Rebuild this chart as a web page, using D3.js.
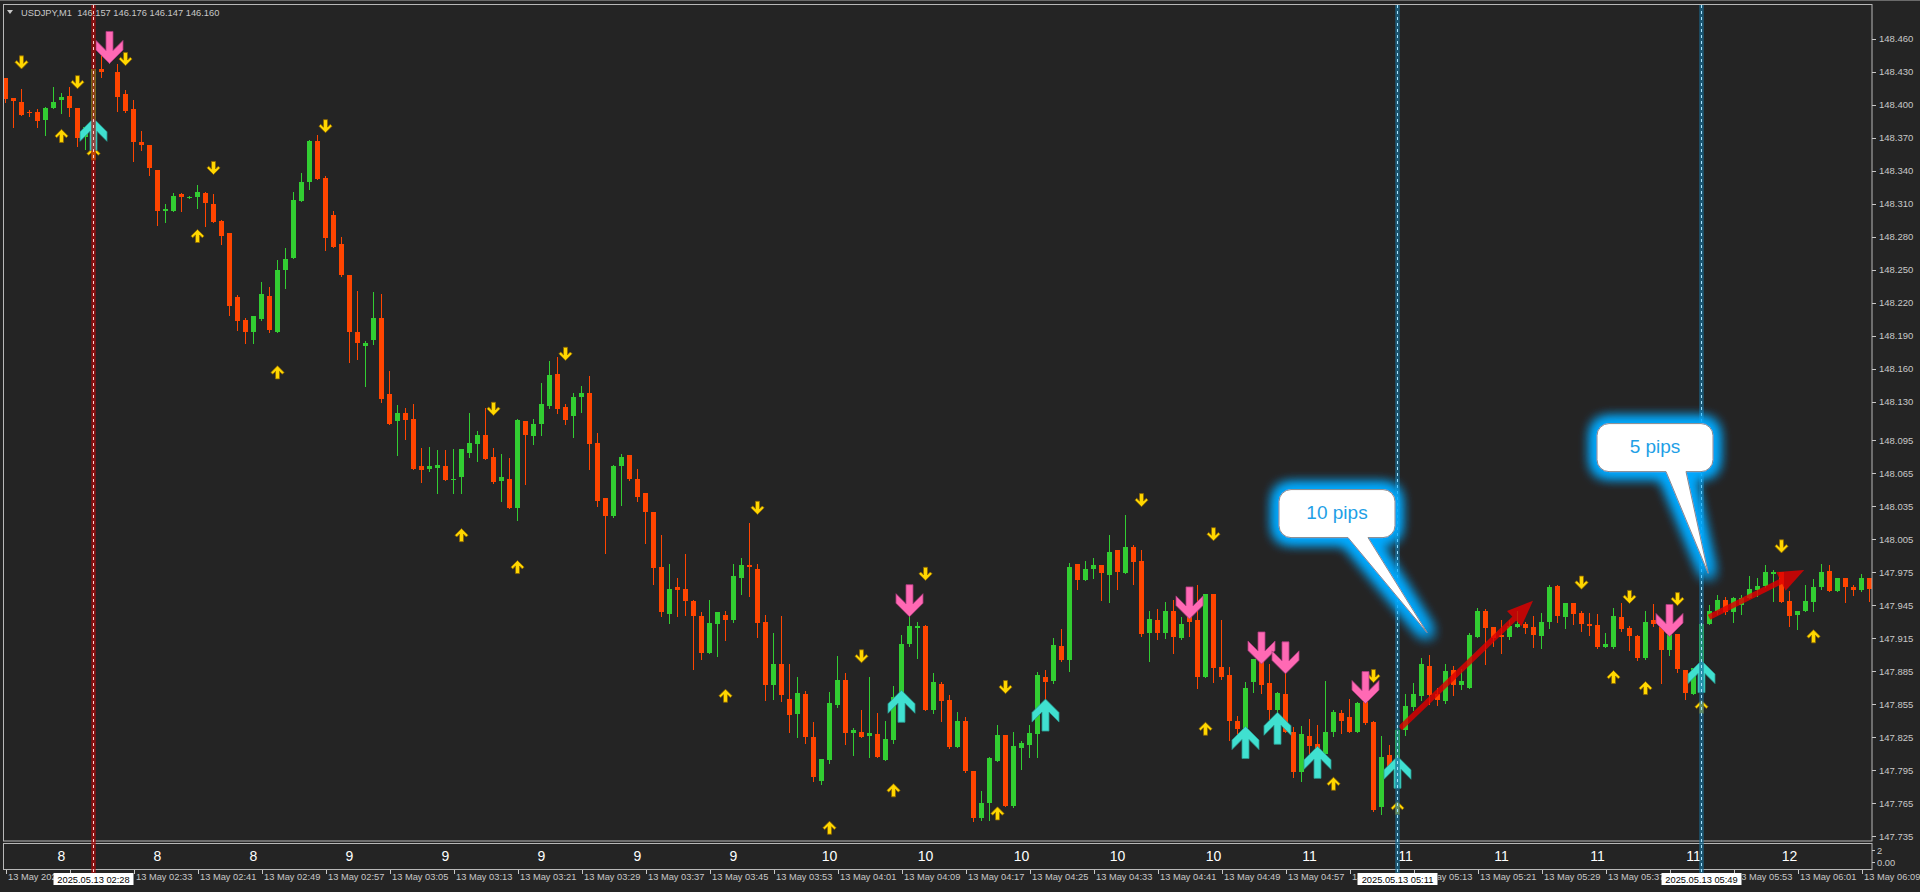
<!DOCTYPE html>
<html><head><meta charset="utf-8"><title>USDJPY,M1</title>
<script src="https://cdn.jsdelivr.net/npm/d3@7/dist/d3.min.js"></script>
<style>
html,body{margin:0;padding:0;background:#242424;overflow:hidden;}
svg{display:block;}
</style></head>
<body><svg id="chart" width="1920" height="892"></svg>
<script>
// ---------------- DATA ----------------
const symbolTitle = "USDJPY,M1";
const titleQuote = "146.157 146.176 146.147 146.160";

// one row per M1 bar, first bar = 13 May 02:17 : [open, high, low, close]
const ohlc = [
[148.424,148.424,148.402,148.405],[148.406,148.406,148.380,148.403],[148.402,148.414,148.391,148.391],[148.393,148.395,148.390,148.392],
[148.393,148.396,148.380,148.385],[148.386,148.398,148.372,148.397],[148.397,148.416,148.397,148.402],[148.404,148.411,148.392,148.407],
[148.408,148.416,148.390,148.397],[148.397,148.397,148.362,148.370],[148.371,148.380,148.360,148.380],[148.380,148.432,148.377,148.432],
[148.432,148.451,148.425,148.430],[148.440,148.452,148.438,148.442],[148.430,148.437,148.394,148.407],[148.410,148.413,148.393,148.394],
[148.396,148.404,148.349,148.366],[148.366,148.376,148.359,148.363],[148.363,148.363,148.336,148.342],[148.341,148.341,148.291,148.303],
[148.303,148.310,148.293,148.305],[148.303,148.320,148.303,148.317],[148.319,148.320,148.303,148.316],[148.316,148.317,148.315,148.316],
[148.316,148.327,148.306,148.321],[148.320,148.321,148.290,148.311],[148.310,148.319,148.293,148.293],[148.294,148.295,148.273,148.281],
[148.283,148.283,148.209,148.217],[148.225,148.227,148.195,148.203],[148.204,148.206,148.183,148.193],[148.193,148.208,148.183,148.208],
[148.205,148.239,148.204,148.228],[148.226,148.234,148.193,148.195],[148.193,148.259,148.193,148.250],[148.250,148.270,148.233,148.260],
[148.261,148.321,148.261,148.313],[148.312,148.338,148.312,148.330],[148.330,148.368,148.323,148.367],[148.367,148.372,148.332,148.332],
[148.333,148.335,148.268,148.279],[148.300,148.303,148.271,148.271],[148.273,148.280,148.244,148.245],[148.245,148.245,148.166,148.193],
[148.193,148.231,148.169,148.183],[148.181,148.185,148.144,148.183],[148.186,148.230,148.182,148.206],[148.206,148.228,148.130,148.132],
[148.137,148.158,148.110,148.110],[148.112,148.127,148.081,148.120],[148.120,148.124,148.096,148.113],[148.114,148.128,148.069,148.069],
[148.071,148.088,148.057,148.068],[148.069,148.089,148.067,148.071],[148.070,148.086,148.047,148.072],[148.071,148.086,148.059,148.059],
[148.059,148.087,148.047,148.060],[148.061,148.087,148.047,148.087],[148.083,148.120,148.080,148.092],[148.091,148.103,148.076,148.100],
[148.100,148.124,148.078,148.078],[148.080,148.088,148.056,148.057],[148.058,148.082,148.040,148.061],[148.060,148.079,148.033,148.033],
[148.033,148.114,148.022,148.113],[148.112,148.112,148.055,148.100],[148.099,148.114,148.091,148.110],[148.110,148.147,148.100,148.128],
[148.126,148.167,148.124,148.154],[148.155,148.171,148.120,148.123],[148.125,148.128,148.110,148.113],[148.117,148.138,148.098,148.134],
[148.134,148.144,148.121,148.138],[148.138,148.153,148.069,148.091],[148.092,148.101,148.035,148.040],[148.042,148.042,147.992,148.026],
[148.026,148.072,148.025,148.071],[148.071,148.082,148.036,148.080],[148.081,148.081,148.059,148.060],[148.060,148.069,148.040,148.043],
[148.047,148.047,148.001,148.030],[148.030,148.030,147.964,147.979],[147.980,148.009,147.935,147.939],[147.937,147.982,147.929,147.960],
[147.961,147.970,147.935,147.959],[147.960,147.991,147.936,147.949],[147.949,147.950,147.887,147.935],[147.935,147.939,147.896,147.901],
[147.901,147.950,147.901,147.929],[147.928,147.939,147.899,147.939],[147.936,147.940,147.913,147.931],[147.931,147.982,147.930,147.971],
[147.970,147.988,147.955,147.981],[147.981,148.020,147.953,147.980],[147.978,147.982,147.916,147.929],[147.930,147.936,147.859,147.872],
[147.872,147.920,147.860,147.891],[147.891,147.935,147.858,147.863],[147.860,147.891,147.830,147.845],[147.846,147.880,147.825,147.865],
[147.864,147.867,147.820,147.825],[147.825,147.839,147.785,147.789],[147.785,147.805,147.782,147.805],[147.804,147.866,147.801,147.856],
[147.854,147.899,147.852,147.877],[147.877,147.883,147.819,147.829],[147.829,147.833,147.809,147.831],[147.830,147.850,147.825,147.825],
[147.826,147.880,147.807,147.829],[147.828,147.847,147.807,147.807],[147.804,147.840,147.804,147.823],[147.822,147.871,147.820,147.861],
[147.860,147.918,147.860,147.910],[147.910,147.939,147.908,147.926],[147.924,147.930,147.897,147.926],[147.926,147.927,147.850,147.850],
[147.850,147.883,147.847,147.875],[147.873,147.875,147.840,147.858],[147.859,147.863,147.815,147.816],[147.816,147.848,147.816,147.840],
[147.840,147.843,147.793,147.794],[147.794,147.794,147.749,147.751],[147.751,147.776,147.750,147.765],[147.765,147.807,147.750,147.806],
[147.803,147.836,147.803,147.827],[147.827,147.827,147.762,147.762],[147.762,147.830,147.761,147.817],[147.815,147.821,147.796,147.820],
[147.818,147.836,147.807,147.829],[147.828,147.884,147.807,147.881],[147.880,147.886,147.845,147.875],[147.876,147.915,147.874,147.909],
[147.908,147.923,147.894,147.895],[147.895,147.983,147.885,147.980],[147.982,147.982,147.960,147.968],[147.968,147.985,147.968,147.978],
[147.978,147.988,147.970,147.981],[147.981,147.981,147.950,147.974],[147.972,148.009,147.948,147.993],[147.995,147.995,147.960,147.975],
[147.974,148.027,147.974,147.998],[147.998,148.000,147.964,147.984],[147.985,147.995,147.917,147.919],[147.920,147.940,147.894,147.932],
[147.931,147.941,147.914,147.920],[147.920,147.948,147.915,147.940],[147.940,147.950,147.901,147.916],[147.915,147.934,147.914,147.928],
[147.934,147.938,147.917,147.930],[147.931,147.963,147.870,147.880],[147.880,147.955,147.880,147.955],[147.955,147.955,147.875,147.888],
[147.889,147.931,147.878,147.880],[147.881,147.889,147.822,147.840],[147.840,147.844,147.822,147.832],[147.831,147.875,147.831,147.870],
[147.875,147.896,147.866,147.896],[147.896,147.898,147.865,147.872],[147.874,147.891,147.841,147.850],[147.850,147.866,147.840,147.865],
[147.864,147.886,147.830,147.830],[147.830,147.834,147.789,147.793],[147.793,147.835,147.785,147.828],[147.826,147.841,147.804,147.817],
[147.819,147.836,147.800,147.810],[147.810,147.876,147.810,147.830],[147.830,147.850,147.826,147.848],[147.847,147.850,147.829,147.840],
[147.843,147.860,147.830,147.830],[147.830,147.857,147.830,147.856],[147.857,147.857,147.837,147.838],[147.839,147.840,147.758,147.759],
[147.761,147.826,147.755,147.807],[147.809,147.818,147.796,147.797],[147.797,147.833,147.793,147.831],[147.831,147.864,147.827,147.853],
[147.852,147.874,147.850,147.864],[147.862,147.897,147.859,147.891],[147.890,147.900,147.855,147.863],[147.864,147.870,147.854,147.859],
[147.858,147.891,147.856,147.885],[147.886,147.890,147.863,147.872],[147.872,147.887,147.869,147.876],[147.870,147.920,147.870,147.918],
[147.916,147.942,147.916,147.940],[147.940,147.941,147.891,147.924],[147.925,147.925,147.908,147.915],[147.918,147.931,147.901,147.916],
[147.916,147.931,147.914,147.926],[147.925,147.940,147.925,147.928],[147.928,147.930,147.920,147.924],[147.925,147.935,147.907,147.918],
[147.917,147.938,147.906,147.930],[147.930,147.963,147.924,147.961],[147.962,147.963,147.930,147.935],[147.934,147.947,147.924,147.947],
[147.947,147.947,147.928,147.937],[147.938,147.940,147.921,147.928],[147.928,147.938,147.918,147.926],[147.927,147.937,147.906,147.907],
[147.907,147.920,147.907,147.910],[147.907,147.942,147.906,147.935],[147.934,147.947,147.921,147.923],[147.924,147.926,147.904,147.917],
[147.917,147.918,147.895,147.897],[147.897,147.940,147.896,147.930],[147.931,147.946,147.926,147.928],[147.928,147.931,147.874,147.904],
[147.904,147.920,147.900,147.920],[147.919,147.919,147.884,147.887],[147.886,147.886,147.860,147.865],[147.864,147.888,147.864,147.888],
[147.887,147.928,147.881,147.928],[147.928,147.945,147.928,147.940],[147.940,147.954,147.937,147.950],[147.950,147.952,147.937,147.939],
[147.939,147.952,147.930,147.951],[147.945,147.954,147.937,147.951],[147.951,147.971,147.951,147.960],[147.959,147.970,147.953,147.962],
[147.962,147.981,147.961,147.975],[147.973,147.977,147.949,147.975],[147.975,147.975,147.948,147.948],[147.949,147.958,147.926,147.935],
[147.936,147.940,147.923,147.940],[147.940,147.963,147.940,147.949],[147.948,147.969,147.940,147.961],[147.961,147.982,147.960,147.975],
[147.976,147.981,147.958,147.958],[147.958,147.970,147.958,147.970],[147.970,147.970,147.948,147.961],[147.961,147.963,147.954,147.959],
[147.959,147.973,147.958,147.970],[147.970,147.970,147.949,147.960]
];

// price axis labels (as printed by the terminal)
const priceTicks = [147.735,147.765,147.795,147.825,147.855,147.885,147.915,147.945,147.975,148.005,148.035,148.065,
                    148.095,148.130,148.160,148.190,148.220,148.250,148.280,148.310,148.340,148.370,148.400,148.430,148.460];
const priceMin = 147.7305, priceMax = 148.4915;

// time axis: label every 8 bars
const timeTickIndex = [0,8,16,24,32,40,48,56,64,72,80,88,96,104,112,120,128,136,144,152,160,168,176,184,192,200,208,216,224,232];
const timeTicks = ["13 May 2025","13 May 02:25","13 May 02:33","13 May 02:41","13 May 02:49","13 May 02:57","13 May 03:05",
  "13 May 03:13","13 May 03:21","13 May 03:29","13 May 03:37","13 May 03:45","13 May 03:53","13 May 04:01","13 May 04:09",
  "13 May 04:17","13 May 04:25","13 May 04:33","13 May 04:41","13 May 04:49","13 May 04:57","13 May 05:05","13 May 05:13",
  "13 May 05:21","13 May 05:29","13 May 05:37","13 May 05:45","13 May 05:53","13 May 06:01","13 May 06:09"];

// sub-window hour labels (every 12 bars starting at bar 7)
const hourIndex = [7,19,31,43,55,67,79,91,103,115,127,139,151,163,175,187,199,211,223];
const hourLabels = [8,8,8,9,9,9,9,9,10,10,10,10,10,11,11,11,11,11,12];
const subTicks = ["2","0.00"];

// signal arrows: [bar index, price]
const yellowDown = [[2,148.438],[9,148.420],[15,148.441],[26,148.342],[40,148.380],[61,148.123],[70,148.173],[94,148.033],
  [107,147.898],[115,147.973],[125,147.870],[142,148.040],[151,148.009],[171,147.880],[197,147.965],[203,147.952],[209,147.950],[222,147.998]];
const yellowUp = [[7,148.372],[11,148.356],[24,148.281],[34,148.157],[57,148.009],[64,147.980],[90,147.863],[103,147.743],
  [111,147.777],[124,147.756],[150,147.833],[166,147.783],[174,147.761],[201,147.880],[205,147.870],[212,147.853],[226,147.917]];
const pinkDown = [[13,148.452],[113,147.949],[148,147.947],[157,147.906],[160,147.897],[170,147.870],[208,147.931]];
const cyanUp = [[11,148.373],[112,147.853],[130,147.845],[155,147.820],[159,147.833],[164,147.802],[174,147.793],[212,147.880]];

// vertical lines
const redLines = [{index:11, label:"2025.05.13 02:28"}];
const blueLines = [{index:174, label:"2025.05.13 05:11"},{index:212, label:"2025.05.13 05:49"}];

// trend arrows
const trendArrows = [
  {fromIndex:174.4, fromPrice:147.833, toIndex:191.0, toPrice:147.949},
  {fromIndex:213.0, fromPrice:147.934, toIndex:224.9, toPrice:147.977}
];

// callouts (box top-left anchor and tail tip in chart coordinates)
const callouts = [
  {text:"10 pips", boxIndex:159.25, boxPrice:148.050, tipIndex:177.75, tipPrice:147.920},
  {text:"5 pips",  boxIndex:199.0,  boxPrice:148.110, tipIndex:212.9,  tipPrice:147.974}
];

// ---------------- DRAW ----------------
const FONT = '"Liberation Sans", Arial, sans-serif';
const BG = "#242424", AX = "#c8c8c8", FRAME = "#b8b8b8";
const BULL = "#32cd32", BEAR = "#ff4500";
const plot = {left:4, right:1872, top:4, bottom:841};
const svg = d3.select("#chart");
const n = ohlc.length;

const x = d3.scaleLinear().domain([0, n-1]).range([5, 5 + 8*(n-1)]);
const y = d3.scaleLinear().domain([priceMin, priceMax]).range([plot.bottom, plot.top]);

svg.append("rect").attr("width",1920).attr("height",892).attr("fill",BG);

const defs = svg.append("defs");
defs.append("clipPath").attr("id","plotClip").append("rect")
  .attr("x",plot.left).attr("y",plot.top).attr("width",plot.right-plot.left).attr("height",plot.bottom-plot.top);
const glow = defs.append("filter").attr("id","glow").attr("x","-60%").attr("y","-60%").attr("width","220%").attr("height","220%");
glow.append("feMorphology").attr("in","SourceAlpha").attr("operator","dilate").attr("radius",3).attr("result","d");
glow.append("feGaussianBlur").attr("in","d").attr("stdDeviation",7).attr("result","b");
glow.append("feFlood").attr("flood-color","#00aaff").attr("result","f");
glow.append("feComposite").attr("in","f").attr("in2","b").attr("operator","in").attr("result","g");
const gm = glow.append("feMerge");
gm.append("feMergeNode").attr("in","g");
gm.append("feMergeNode").attr("in","g");
gm.append("feMergeNode").attr("in","g");
gm.append("feMergeNode").attr("in","SourceGraphic");

// top window strip
svg.append("line").attr("x1",0).attr("x2",1920).attr("y1",0.5).attr("y2",0.5).attr("stroke","#6a6a6a");

const g = svg.append("g").attr("clip-path","url(#plotClip)");

const bars = ohlc.map((d,i)=>({i, o:d[0], h:d[1], l:d[2], c:d[3], up:d[3]>=d[0]}));
const px = i => Math.round(x(i));

g.append("g").attr("shape-rendering","crispEdges").selectAll("line").data(bars).join("line")
  .attr("x1",d=>px(d.i)+0.5).attr("x2",d=>px(d.i)+0.5)
  .attr("y1",d=>Math.round(y(d.h))).attr("y2",d=>Math.round(y(d.l))+1)
  .attr("stroke",d=>d.up?BULL:BEAR).attr("stroke-width",1);
g.append("g").attr("shape-rendering","crispEdges").selectAll("rect").data(bars).join("rect")
  .attr("x",d=>px(d.i)-2).attr("width",5)
  .attr("y",d=>Math.round(y(Math.max(d.o,d.c))))
  .attr("height",d=>Math.max(1, Math.round(y(Math.min(d.o,d.c))) - Math.round(y(Math.max(d.o,d.c)))))
  .attr("fill",d=>d.up?BULL:BEAR);

// arrow shapes
const smallDown = "M-2,-7L2,-7L2,0.5L4.8,-2.3L6.6,-0.5L0,6.1L-6.6,-0.5L-4.8,-2.3L-2,0.5Z";
const smallUp = "M-2,7L2,7L2,-0.5L4.8,2.3L6.6,0.5L0,-6.1L-6.6,0.5L-4.8,2.3L-2,-0.5Z";
const bigDown = "M-3.5,-16L3.5,-16L3.5,3L13.5,-7L13.5,2.5L0,16L-13.5,2.5L-13.5,-7L-3.5,3Z";
const bigUp = "M-3.5,16L3.5,16L3.5,-3L13.5,7L13.5,-2.5L0,-16L-13.5,-2.5L-13.5,7L-3.5,-3Z";

function arrows(data, shape, fill, stroke){
  g.append("g").selectAll("path").data(data).join("path")
    .attr("d",shape)
    .attr("transform",d=>`translate(${px(d[0])+0.5},${y(d[1])})`)
    .attr("fill",fill).attr("stroke",stroke).attr("stroke-width",0.8);
}
arrows(yellowDown, smallDown, "#ffd700", "#8c6400");
arrows(yellowUp, smallUp, "#ffd700", "#8c6400");
arrows(pinkDown, bigDown, "#ff69b4", "#b03a80");
arrows(cyanUp, bigUp, "#40e0d0", "#2a9a90");

// trend arrows
trendArrows.forEach(a=>{
  const x0=x(a.fromIndex), y0=y(a.fromPrice), x1=x(a.toIndex), y1=y(a.toPrice);
  const dx=x1-x0, dy=y1-y0, L=Math.hypot(dx,dy), ux=dx/L, uy=dy/L, nx=-uy, ny=ux;
  const hl=26, hw=10.5;
  const bx=x1-ux*hl, by=y1-uy*hl;
  const ag = g.append("g").attr("opacity",0.82);
  ag.append("line").attr("x1",x0).attr("y1",y0).attr("x2",bx+ux*2).attr("y2",by+uy*2)
    .attr("stroke","#e00000").attr("stroke-width",5.5);
  ag.append("path").attr("d",`M${x1},${y1}L${bx+nx*hw},${by+ny*hw}L${bx-nx*hw},${by-ny*hw}Z`).attr("fill","#e00000");
});

// frames
svg.append("rect").attr("x",plot.left-0.5).attr("y",plot.top+0.5).attr("width",plot.right-plot.left+0.5).attr("height",plot.bottom-plot.top-0.5)
  .attr("fill","none").attr("stroke",FRAME);
svg.append("rect").attr("x",plot.left-0.5).attr("y",843.5).attr("width",plot.right-plot.left+0.5).attr("height",26)
  .attr("fill","none").attr("stroke",FRAME);

// sub-window hour labels
svg.append("g").selectAll("text").data(hourIndex).join("text")
  .attr("x",d=>px(d)+0.5).attr("y",861).attr("text-anchor","middle")
  .attr("font-family",FONT).attr("font-size",14).attr("fill","#ffffff")
  .text((d,i)=>hourLabels[i]);
svg.append("g").selectAll("text").data(subTicks).join("text")
  .attr("x",1877).attr("y",(d,i)=>i===0?853.5:865.5)
  .attr("font-family",FONT).attr("font-size",9.3).attr("fill",AX).text(d=>d);
svg.append("g").selectAll("line").data([850,862]).join("line")
  .attr("x1",1872).attr("x2",1875).attr("y1",d=>d+0.5).attr("y2",d=>d+0.5).attr("stroke",AX);

// price axis
const yAxis = d3.axisRight(y).tickValues(priceTicks).tickFormat(d3.format(".3f")).tickSize(4).tickPadding(3);
const ya = svg.append("g").attr("transform",`translate(${plot.right},0)`).call(yAxis);
ya.select(".domain").remove();
ya.selectAll("line").attr("stroke",AX).attr("shape-rendering","crispEdges");
ya.selectAll("text").attr("fill",AX).attr("font-family",FONT).attr("font-size",9.5);

// date boxes (vertical-line labels) positions
const dateBoxes = [...redLines, ...blueLines].map(d=>{ const cx = px(d.index)+0.5; return {cx, l:cx-40, r:cx+40, label:d.label}; });

// time axis
const xAxis = d3.axisBottom(x).tickValues(timeTickIndex).tickFormat((d,i)=>timeTicks[i]).tickSize(4).tickPadding(0);
const xa = svg.append("g").attr("transform","translate(0.5,870)").call(xAxis);
xa.select(".domain").remove();
xa.selectAll("line").attr("stroke",AX).attr("shape-rendering","crispEdges");
xa.selectAll("text").attr("fill",AX).attr("font-family",FONT).attr("font-size",9.3)
  .attr("text-anchor","start").attr("x",2).attr("y",3).attr("dy","0.71em");
// hide the parts of tick labels that sit under the date boxes (as the terminal does)
xa.selectAll(".tick").each(function(d){
  const t = d3.select(this).select("text");
  const start = x(d) + 0.5 + 2, end = start + t.node().getComputedTextLength();
  dateBoxes.forEach((b,k)=>{
    if (end <= b.l || start >= b.r) return;
    if (start >= b.l - 1 && end <= b.r + 1) { t.remove(); return; }
    const id = `tclip${d}_${k}`;
    const lo = start < b.l ? start - 2 : b.r, hi = start < b.l ? b.l : end + 2;
    defs.append("clipPath").attr("id",id).append("rect")
      .attr("x", lo - x(d) - 0.5).attr("y",0).attr("width", hi - lo).attr("height",22);
    t.attr("clip-path",`url(#${id})`);
  });
});

// vertical lines
function vline(d, band, dash){
  const cx = px(d.index)+0.5;
  svg.append("line").attr("x1",cx).attr("x2",cx).attr("y1",plot.top+1).attr("y2",878)
    .attr("stroke",band).attr("stroke-width",4.5);
  svg.append("line").attr("x1",cx).attr("x2",cx).attr("y1",plot.top+1).attr("y2",878)
    .attr("stroke",dash).attr("stroke-width",1).attr("stroke-dasharray","3,3");
}
redLines.forEach(d=>vline(d,"rgba(175,10,10,0.72)","#ffd0d0"));
blueLines.forEach(d=>vline(d,"rgba(25,110,150,0.7)","#a8e4ff"));

// date labels on the time axis
dateBoxes.forEach(b=>{
  svg.append("rect").attr("x",b.l).attr("y",873).attr("width",80).attr("height",12).attr("fill","#ffffff");
  svg.append("text").attr("x",b.cx).attr("y",882.5).attr("text-anchor","middle")
    .attr("font-family",FONT).attr("font-size",9.3).attr("fill","#000000").text(b.label);
});

// callouts
callouts.forEach(c=>{
  const bx=x(c.boxIndex), by=y(c.boxPrice), w=116, h=48, r=12;
  const tx=x(c.tipIndex), ty=y(c.tipPrice);
  const tl=bx+69, tr=bx+89;
  const p = `M${bx+r},${by}H${bx+w-r}A${r},${r} 0 0 1 ${bx+w},${by+r}V${by+h-r}A${r},${r} 0 0 1 ${bx+w-r},${by+h}`+
            `H${tr}L${tx},${ty}L${tl},${by+h}H${bx+r}A${r},${r} 0 0 1 ${bx},${by+h-r}V${by+r}A${r},${r} 0 0 1 ${bx+r},${by}Z`;
  svg.append("path").attr("d",p).attr("fill","#ffffff").attr("stroke","#8a8a8a").attr("stroke-width",1).attr("filter","url(#glow)");
  svg.append("text").attr("x",bx+w/2).attr("y",by+29).attr("text-anchor","middle")
    .attr("font-family",FONT).attr("font-size",19).attr("fill","#1ea0e6").text(c.text);
});

// header
svg.append("path").attr("d","M7,10L13,10L10,14Z").attr("fill",AX);
svg.append("text").attr("x",21).attr("y",16).attr("font-family",FONT).attr("font-size",9.3).attr("fill",AX)
  .attr("xml:space","preserve").text(symbolTitle + "  " + titleQuote);
</script>
</body></html>
